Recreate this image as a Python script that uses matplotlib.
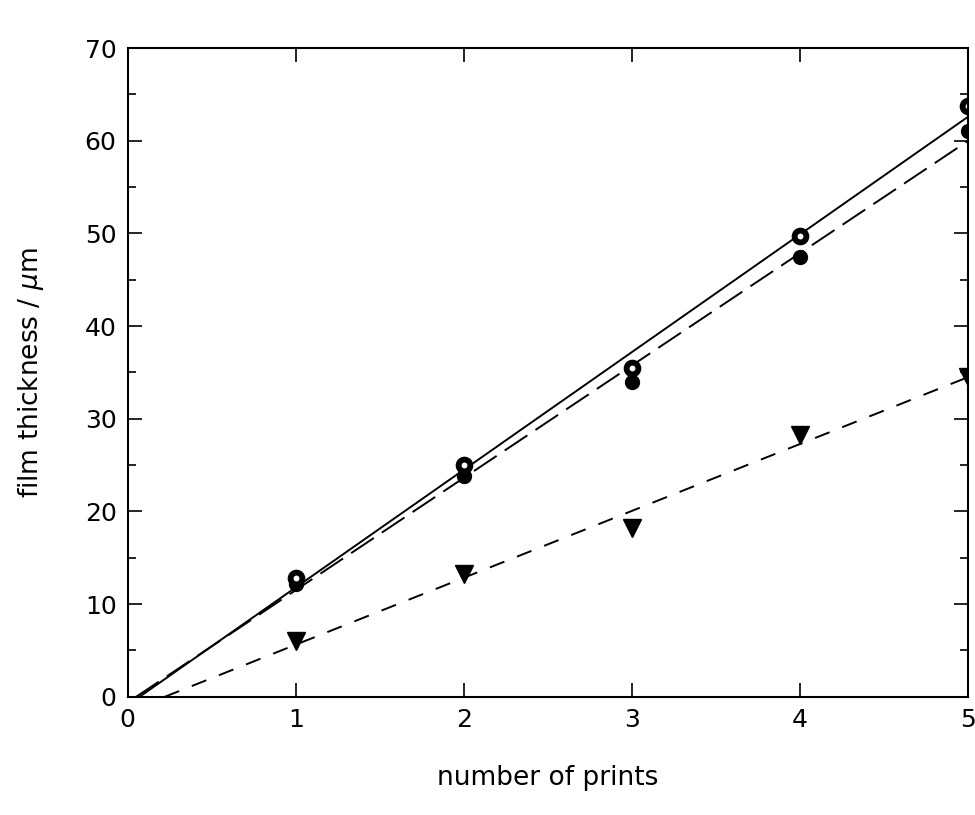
import matplotlib
matplotlib.use("Agg")
import matplotlib.pyplot as plt
from matplotlib.ticker import MultipleLocator

prints = [1, 2, 3, 4, 5]
open_circ = [12.8, 25.0, 35.5, 49.7, 63.8]
filled_circ = [12.2, 23.8, 34.0, 47.5, 61.0]
triangles = [6.0, 13.2, 18.2, 28.3, 34.5]

# fit lines (end points)
solid_x = [0.07, 5.0]
solid_y = [0.0, 62.6]
long_dash_x = [0.05, 5.0]
long_dash_y = [0.0, 60.0]
short_dash_x = [0.22, 5.0]
short_dash_y = [0.0, 34.5]

fig = plt.figure(figsize=(9.75, 8.15), dpi=100)
ax = fig.add_axes([0.131, 0.145, 0.862, 0.796])

ax.plot(solid_x, solid_y, color="black", lw=1.4)
ax.plot(long_dash_x, long_dash_y, color="black", lw=1.4, dashes=(14, 5))
ax.plot(short_dash_x, short_dash_y, color="black", lw=1.4, dashes=(8, 7))

ax.plot(prints, filled_circ, "o", color="black", ms=10, ls="none")
ax.plot(prints, open_circ, "o", mfc="white", mec="black", mew=4.2, ms=8.5, ls="none")
ax.plot(prints, triangles, "v", color="black", ms=13, ls="none")

ax.set_xlim(0, 5)
ax.set_ylim(0, 70)
ax.xaxis.set_major_locator(MultipleLocator(1))
ax.yaxis.set_major_locator(MultipleLocator(10))
ax.yaxis.set_minor_locator(MultipleLocator(5))
ax.tick_params(which="both", direction="in", top=True, right=True, labelsize=18, width=1.2)
ax.tick_params(which="major", length=10, pad=8)
ax.tick_params(which="minor", length=6)
for s in ax.spines.values():
    s.set_linewidth(1.5)

ax.set_xlabel("number of prints", fontsize=19, labelpad=24)
ax.set_ylabel(r"film thickness / $\mu$m", fontsize=19, labelpad=28)

fig.savefig("out.png", dpi=100)
